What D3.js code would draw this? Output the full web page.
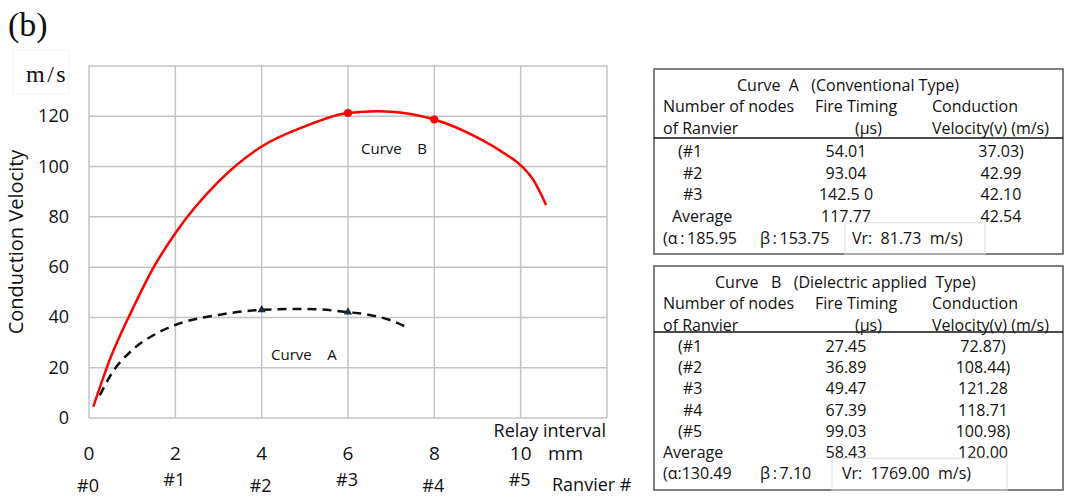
<!DOCTYPE html>
<html>
<head>
<meta charset="utf-8">
<script src="https://cdn.jsdelivr.net/npm/d3@7"></script>
<style>
  body { margin: 0; background: #fff; }
  text { font-family: "Open Sans", sans-serif; fill: #111; white-space: pre; }
  .serif { font-family: "Liberation Serif", "DejaVu Serif", serif; }
</style>
</head>
<body>
<div id="chart"></div>
<script>
// chart size
var WIDTH = 1067, HEIGHT = 497;

// curve values (relay interval mm, velocity m/s)
var curveB = [[0.1,4.5],[0.5,24],[1,43],[1.5,60],[2,73.5],[3,94],[4,108],[5,116],[6,121.3],
              [6.7,122],[7,121.8],[8,118.7],[9,111.5],[9.6,105.5],[10,100.5],[10.3,94.5],
              [10.59,84.7]];
var curveA = [[0.25,9],[0.5,17],[1,27],[1.5,33],[2,37],[3,41],[4,43],[5,43.4],[6,42.1],
              [6.5,41],[7,38.8],[7.4,35.8]];
var markersB = [[6,121.28],[8,118.71]];
var markersA = [[4,42.99],[6,42.10]];

var xTicks = [0,2,4,6,8,10];
var yTicks = [0,20,40,60,80,100,120];
var ranvierLabels = ["#0","#1","#2","#3","#4","#5"];

// table values
var nodesA = ["(#1","#2","#3","Average"];
var timingA = ["54.01","93.04","142.5 0","117.77"];
var velocityA = ["37.03)","42.99","42.10","42.54"];
var paramsA = ["(\u03b1\u2009:\u2009185.95", "\u03b2\u2009:\u2009153.75", "Vr:  81.73  m/s)"];

var nodesB = ["(#1","(#2","#3","#4","(#5","Average"];
var timingB = ["27.45","36.89","49.47","67.39","99.03","58.43"];
var velocityB = ["72.87)","108.44)","121.28","118.71","100.98)","120.00"];
var paramsB = ["(\u03b1:130.49", "\u03b2\u2009:\u20097.10", "Vr:  1769.00  m/s)"];

var svg = d3.select("#chart").append("svg")
    .attr("width", WIDTH)
    .attr("height", HEIGHT);

var x = d3.scaleLinear().domain([0,12]).range([89,607]);
var y = d3.scaleLinear().domain([0,140]).range([418,66]);

// grid
svg.append("g").selectAll("line.v")
    .data(xTicks.concat([12]))
    .enter().append("line")
    .attr("x1", d => x(d)).attr("x2", d => x(d))
    .attr("y1", y(0)).attr("y2", y(140))
    .attr("stroke", "#c4c4c4").attr("stroke-width", 1.5);
svg.append("g").selectAll("line.h")
    .data(yTicks.concat([140]))
    .enter().append("line")
    .attr("x1", x(0)).attr("x2", x(12))
    .attr("y1", d => y(d)).attr("y2", d => y(d))
    .attr("stroke", "#c4c4c4").attr("stroke-width", 1.5);

// y tick labels
svg.append("g").selectAll("text")
    .data(yTicks)
    .enter().append("text")
    .attr("x", 69).attr("y", d => y(d) - 1)
    .attr("text-anchor", "end").attr("dominant-baseline", "central")
    .style("font-size", "18px")
    .text(d => d);

// x tick labels
svg.append("g").selectAll("text")
    .data(xTicks)
    .enter().append("text")
    .attr("x", d => x(d)).attr("y", 453)
    .attr("text-anchor", "middle").attr("dominant-baseline", "central")
    .style("font-size", "19px")
    .text(d => d);
svg.append("text").attr("x", 548).attr("y", 453)
    .attr("dominant-baseline", "central").style("font-size", "19px").text("mm");

// ranvier labels, odd ones sit a little higher
svg.append("g").selectAll("text")
    .data(ranvierLabels)
    .enter().append("text")
    .attr("x", (d,i) => x(xTicks[i]) - 1).attr("y", (d,i) => i % 2 ? 479 : 485)
    .attr("text-anchor", "middle").attr("dominant-baseline", "central")
    .style("font-size", "18px")
    .text(d => d);
svg.append("text").attr("x", 552).attr("y", 484)
    .attr("dominant-baseline", "central").style("font-size", "18px").text("Ranvier #");

svg.append("text").attr("x", 606).attr("y", 430)
    .attr("text-anchor", "end").attr("dominant-baseline", "central")
    .style("font-size", "18px").text("Relay interval");

// axis title and units
svg.append("text")
    .attr("transform", "translate(15,242) rotate(-90)")
    .attr("text-anchor", "middle").attr("dominant-baseline", "central")
    .style("font-size", "20px").text("Conduction Velocity");
svg.append("rect").attr("x", 13).attr("y", 50).attr("width", 56).attr("height", 44)
    .attr("fill", "none").attr("stroke", "#f3f3f3");
svg.append("text").attr("class", "serif").attr("x", 26).attr("y", 82)
    .style("font-size", "24px").style("letter-spacing", "2.5px").text("m/s");
svg.append("text").attr("class", "serif").attr("x", 8).attr("y", 36)
    .style("font-size", "34px").text("(b)");

// curves
var line = d3.line().x(d => x(d[0])).y(d => y(d[1])).curve(d3.curveMonotoneX);

svg.append("path").datum(curveA)
    .attr("d", line).attr("fill", "none")
    .attr("stroke", "#111").attr("stroke-width", 2.5)
    .attr("stroke-dasharray", "9,6");
svg.append("path").datum(curveB)
    .attr("d", line).attr("fill", "none")
    .attr("stroke", "#ff0000").attr("stroke-width", 2.5);

svg.append("g").selectAll("circle")
    .data(markersB)
    .enter().append("circle")
    .attr("cx", d => x(d[0])).attr("cy", d => y(d[1])).attr("r", 4)
    .attr("fill", "#ff0000");
svg.append("g").selectAll("path")
    .data(markersA)
    .enter().append("path")
    .attr("transform", d => "translate(" + x(d[0]) + "," + y(d[1]) + ")")
    .attr("d", d3.symbol().type(d3.symbolTriangle).size(30))
    .attr("fill", "#1b2a48");

svg.append("text").attr("x", 361).attr("y", 148)
    .attr("dominant-baseline", "central").style("font-size", "15px").text("Curve    B");
svg.append("text").attr("x", 271).attr("y", 354)
    .attr("dominant-baseline", "central").style("font-size", "15px").text("Curve    A");

// tables
function drawTable(top, bottom, title, titleX, nodes, timing, velocity, params, opts) {
  var g = svg.append("g").style("font-size", "16px");
  g.append("rect").attr("x", 654).attr("y", top).attr("width", 409).attr("height", bottom - top)
      .attr("fill", "none").attr("stroke", "#555").attr("stroke-width", 1.5);
  g.append("text").attr("x", titleX).attr("y", top + 16).attr("dominant-baseline", "central").text(title);
  var h1 = top + 37, h2 = top + 59;
  g.append("text").attr("x", 663).attr("y", h1).attr("dominant-baseline", "central").text("Number of nodes");
  g.append("text").attr("x", 815).attr("y", h1).attr("dominant-baseline", "central").text("Fire Timing");
  g.append("text").attr("x", 932).attr("y", h1).attr("dominant-baseline", "central").text("Conduction");
  g.append("text").attr("x", 663).attr("y", h2).attr("dominant-baseline", "central").text("of Ranvier");
  g.append("text").attr("x", 855).attr("y", h2).attr("dominant-baseline", "central").text("(\u00b5s)");
  g.append("text").attr("x", 932).attr("y", h2).attr("dominant-baseline", "central").text("Velocity(v) (m/s)");
  g.append("line").attr("x1", 654).attr("x2", 1063).attr("y1", top + opts.rule).attr("y2", top + opts.rule)
      .attr("stroke", "#111").attr("stroke-width", 1.5);

  var rowY = d => top + opts.first + d * opts.step;
  g.selectAll("text.n").data(nodes).enter().append("text")
      .attr("x", d => d === "Average" ? opts.avgX : (d[0] === "(" ? 678 : 683))
      .attr("y", (d,i) => rowY(i)).attr("dominant-baseline", "central").text(d => d);
  g.selectAll("text.t").data(timing).enter().append("text")
      .attr("x", 846).attr("y", (d,i) => rowY(i))
      .attr("text-anchor", "middle").attr("dominant-baseline", "central").text(d => d);
  g.selectAll("text.v").data(velocity).enter().append("text")
      .attr("x", opts.velX).attr("y", (d,i) => rowY(i))
      .attr("text-anchor", "middle").attr("dominant-baseline", "central").text(d => d);

  var py = rowY(nodes.length);
  g.append("rect").attr("x", opts.vrBox[0]).attr("y", py - 15)
      .attr("width", opts.vrBox[1] - opts.vrBox[0]).attr("height", bottom - py + 15)
      .attr("fill", "none").attr("stroke", "#ddd");
  g.selectAll("text.p").data(params).enter().append("text")
      .attr("x", (d,i) => opts.paramX[i]).attr("y", py)
      .attr("dominant-baseline", "central").text(d => d);
}

drawTable(69, 254, "Curve  A   (Conventional Type)", 737, nodesA, timingA, velocityA, paramsA,
  {rule: 69, first: 82, step: 21.7, avgX: 672, velX: 1001, vrBox: [845, 985], paramX: [663, 760, 852]});
drawTable(266, 490, "Curve   B   (Dielectric applied  Type)", 715, nodesB, timingB, velocityB, paramsB,
  {rule: 66, first: 80, step: 21.2, avgX: 663, velX: 983, vrBox: [832, 1007], paramX: [663, 760, 842]});
</script>
</body>
</html>
